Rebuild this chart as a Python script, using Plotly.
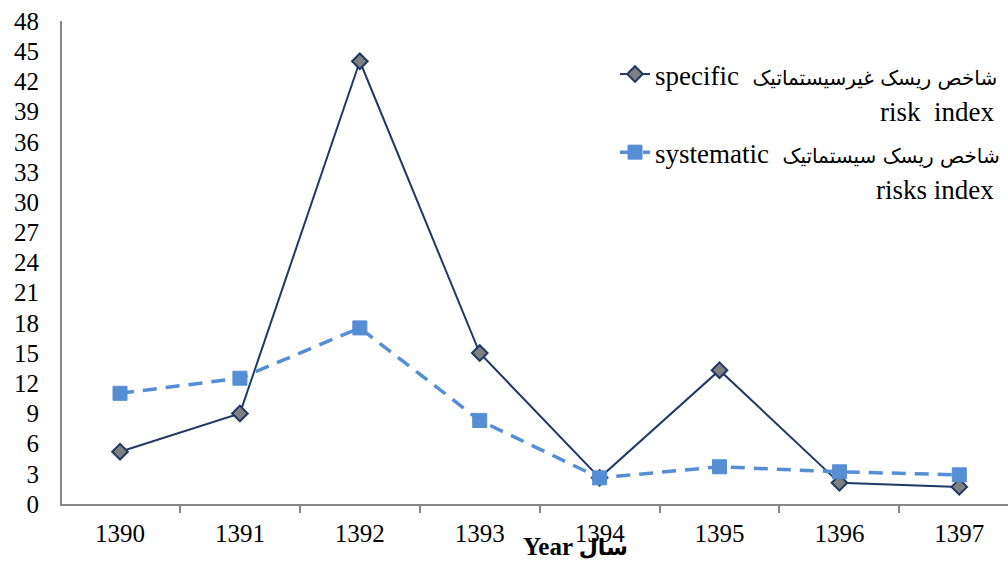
import plotly.graph_objects as go

years = ["1390", "1391", "1392", "1393", "1394", "1395", "1396", "1397"]
specific = [5.2, 9.0, 44.0, 15.0, 2.6, 13.3, 2.1, 1.7]
systematic = [11.0, 12.5, 17.5, 8.3, 2.6, 3.7, 3.2, 2.9]
y_ticks = list(range(0, 49, 3))

en_specific = "specific"
fa_specific = "شاخص ریسک غیرسیستماتیک"
en_systematic = "systematic"
fa_systematic = "شاخص ریسک سیستماتیک"
line2_specific = "risk  index"
line2_systematic = "risks index"
x_title_en = "Year"
x_title_fa = "سال"

FONT = "Liberation Serif"
FA_FONT = "DejaVu Sans"
FS = 25
LFS = 27
FA_FS = 20


def legend_name(en, fa):
    return (en + "\u00a0\u00a0" +
            f"<span style=\"font-family:'{FA_FONT}';font-size:{FA_FS}px\">{fa}</span>")


fig = go.Figure()
fig.add_trace(go.Scatter(
    x=years, y=specific, name=legend_name(en_specific, fa_specific),
    legendgroup="a", mode="lines+markers",
    line=dict(color="#1F3864", width=2),
    marker=dict(symbol="diamond", size=12, color="#7F7F7F",
                line=dict(color="#1F3864", width=2)),
))
fig.add_trace(go.Scatter(
    x=years, y=systematic, name=legend_name(en_systematic, fa_systematic),
    legendgroup="b", mode="lines+markers",
    line=dict(color="#558ED5", width=3.5, dash="14px,9px"),
    marker=dict(symbol="square", size=14, color="#558ED5",
                line=dict(color="#558ED5", width=1)),
))

W, H = 1008, 562
ml, mr, mt, mb = 62, 0, 21, 58
pw, ph = W - ml - mr, H - mt - mb


def px(xp):
    return (xp - ml) / pw


def py(yp):
    return (H - mb - yp) / ph


fig.update_layout(
    width=W, height=H,
    margin=dict(l=ml, r=mr, t=mt, b=mb, autoexpand=False),
    paper_bgcolor="white", plot_bgcolor="white",
    font=dict(family=FONT, size=FS, color="black"),
    showlegend=True,
    legend=dict(x=px(615), y=py(50), xanchor="left", yanchor="top",
                font=dict(family=FONT, size=LFS, color="black"),
                traceorder="grouped", tracegroupgap=40,
                bgcolor="rgba(0,0,0,0)"),
    xaxis=dict(type="category", range=[-0.484, 7.406], automargin=False,
               showline=True, linecolor="#868686", linewidth=2,
               ticks="outside", tickson="boundaries", ticklen=7,
               tickcolor="#868686", tickwidth=2, ticklabelstandoff=6,
               showgrid=False, zeroline=False,
               tickfont=dict(family=FONT, size=FS, color="black")),
    yaxis=dict(range=[0, 48], tickvals=y_ticks, automargin=False,
               showline=True, linecolor="#868686", linewidth=2,
               ticks="", showgrid=False, zeroline=False, ticklabelstandoff=16,
               tickfont=dict(family=FONT, size=FS, color="black")),
)

fig.add_annotation(text=line2_specific, xref="paper", yref="paper",
                   x=px(996), y=py(112), xanchor="right", yanchor="middle",
                   showarrow=False, font=dict(family=FONT, size=LFS, color="black"))
fig.add_annotation(text=line2_systematic, xref="paper", yref="paper",
                   x=px(996), y=py(190), xanchor="right", yanchor="middle",
                   showarrow=False, font=dict(family=FONT, size=LFS, color="black"))
fig.add_annotation(
    text=f"<b>{x_title_en} <span style=\"font-family:'{FA_FONT}';font-size:22px\">{x_title_fa}</span></b>",
    xref="paper", yref="paper",
    x=px(575), y=py(546), xanchor="center", yanchor="middle",
    showarrow=False, font=dict(family=FONT, size=FS, color="black"))

fig.write_html("out.html", config={"displayModeBar": False},
               post_script="document.body.style.margin='0px';")
